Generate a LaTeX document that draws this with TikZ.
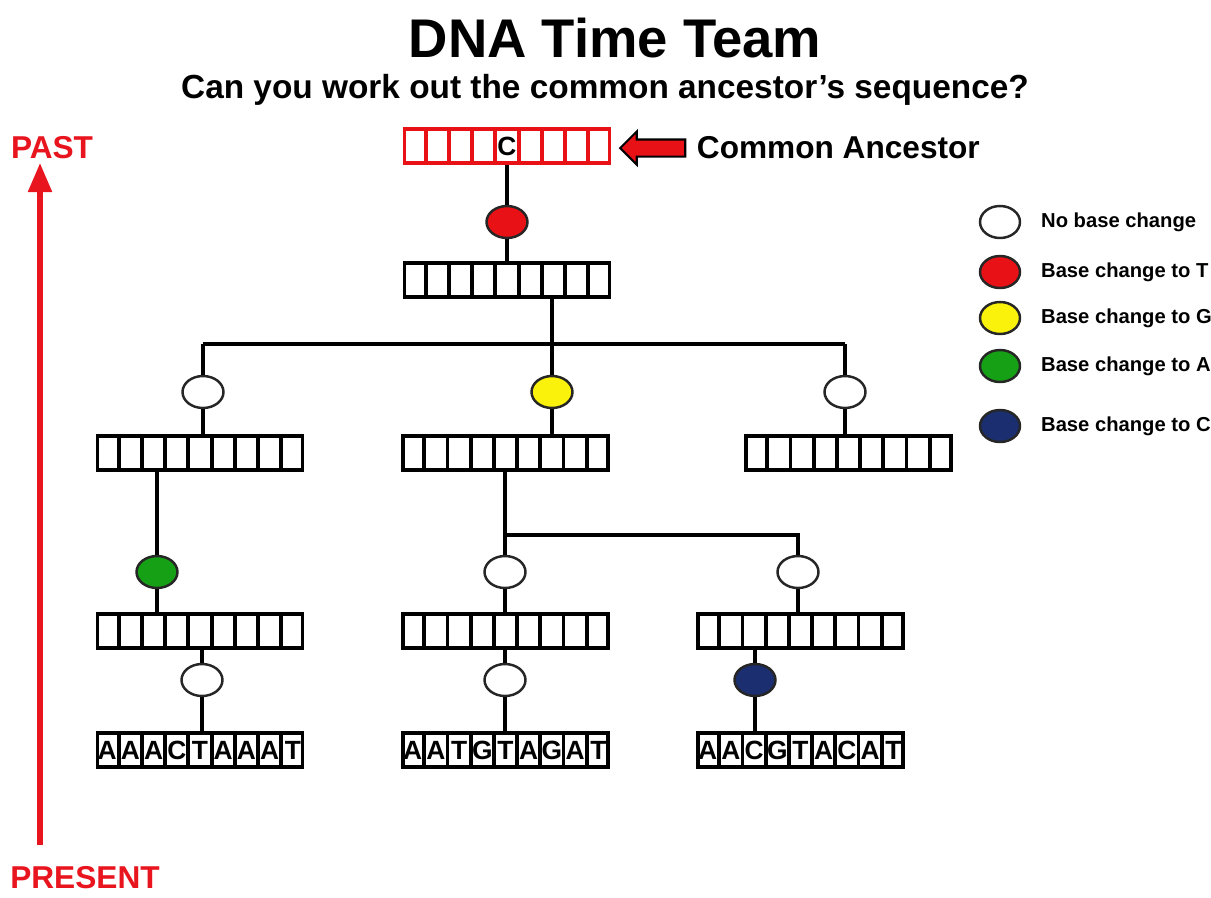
\documentclass[tikz,border=0pt]{standalone}
\usepackage{fontspec}
\setmainfont{Liberation Sans}
\usetikzlibrary{shapes,arrows.meta,positioning,calc}

\definecolor{mutred}{RGB}{232,18,22}
\definecolor{mutyellow}{RGB}{250,242,10}
\definecolor{mutgreen}{RGB}{22,160,22}
\definecolor{mutblue}{RGB}{26,46,112}
\definecolor{timered}{RGB}{232,20,30}

% one sequence = 9 cells
\newcommand{\cells}[2][black]{%
  \foreach \k in {1,...,8}
    \draw[#1] ($(#2.south west)!\k/9!(#2.south east)$) -- ($(#2.north west)!\k/9!(#2.north east)$);}
\newcommand{\bases}[2]{%
  \foreach \b [count=\k, evaluate=\k as \f using (\k-0.5)/9] in {#2}
    \node[base] at ($(#1.west)!\f!(#1.east)$) {\b};}

\tikzset{
  seqbox/.style={draw, rectangle, minimum width=4.1cm, minimum height=0.68cm, inner sep=0},
  base/.style={font=\fontsize{15}{15}\selectfont\bfseries, inner sep=0},
  change/.style={draw=black!85, line width=1.4pt, ellipse, fill=white,
    minimum width=0.82cm, minimum height=0.64cm, inner sep=0},
  keytext/.style={font=\fontsize{11.5}{12}\selectfont\bfseries, inner sep=0},
  bigtext/.style={font=\fontsize{18}{18}\selectfont\bfseries}
}

\begin{document}
\begin{tikzpicture}[x=0.02cm, y=-0.02cm, line width=2.2pt]
\useasboundingbox (0,0) rectangle (1211,897);

% Title
\node[font=\fontsize{31}{31}\selectfont\bfseries] (title) at (615,38) {DNA Time Team};
\node[font=\fontsize{19}{19}\selectfont\bfseries] (question) at (605,90)
  {Can you work out the common ancestor’s sequence?};

% Common ancestor
\node[seqbox, draw=mutred] (anc) at (507,146) {};
\node[single arrow,
    shape border rotate=180,
    fill=mutred,
    draw=black,
    line width=1.2pt,
    minimum height=1.3cm,
    inner sep=0.15cm,
    single arrow head extend=0.16cm
] (ancarrow) at (657,148) {};
\node[bigtext, anchor=west, inner sep=0] (anclabel) at (695,148) {Common Ancestor};

% First change
\node[change, fill=mutred] (mutT) at (507,222) {};
\node[seqbox] (seqB) at (507,280) {};

% Three branches
\coordinate (barL) at (203,344);
\coordinate (barR) at (845,344);
\node[change] (noL) at (203,392) {};
\node[change, fill=mutyellow] (mutG) at (552,392) {};
\node[change] (noR) at (845,392) {};

\node[seqbox] (seqL) at (200,453) {};
\node[seqbox] (seqM) at (505.5,453) {};
\node[seqbox] (seqR) at (848.5,453) {};

% Next level
\node[change, fill=mutgreen] (mutA) at (157,572) {};
\coordinate (barM) at (505,535);
\coordinate (barMR) at (798,535);
\node[change] (noM) at (505,572) {};
\node[change] (noMR) at (798,572) {};

\node[seqbox] (seqLL) at (200,631) {};
\node[seqbox] (seqML) at (505.5,631) {};
\node[seqbox] (seqMR) at (800.5,631) {};

\node[change] (noLL) at (202,680) {};
\node[change] (noML) at (505,680) {};
\node[change, fill=mutblue] (mutC) at (755,680) {};

% Present day sequences
\node[seqbox] (leafA) at (200,750) {};
\node[seqbox] (leafB) at (505.5,750) {};
\node[seqbox] (leafC) at (800.5,750) {};

% Cells and bases
\cells[mutred]{anc}
\node[base] (ancbase) at (anc.center) {C};
\foreach \s in {seqB,seqL,seqM,seqR,seqLL,seqML,seqMR,leafA,leafB,leafC}
  \cells{\s};
\bases{leafA}{A,A,A,C,T,A,A,A,T}
\bases{leafB}{A,A,T,G,T,A,G,A,T}
\bases{leafC}{A,A,C,G,T,A,C,A,T}

% Lines
\draw (anc) -- (mutT) -- (seqB);
\draw (seqB.south -| mutG) -- (mutG) -- (mutG |- seqM.north);
\draw (barL) -- (barR);
\draw (barL) -- (noL) -- (noL |- seqL.north);
\draw (barR) -- (noR) -- (noR |- seqR.north);
\draw (seqL.south -| mutA) -- (mutA) -- (mutA |- seqLL.north);
\draw (seqM.south -| barM) -- (barM) -- (barMR) -- (noMR) -- (noMR |- seqMR.north);
\draw (barM) -- (noM) -- (noM |- seqML.north);
\draw (seqLL.south -| noLL) -- (noLL) -- (noLL |- leafA.north);
\draw (seqML.south -| noML) -- (noML) -- (noML |- leafB.north);
\draw (seqMR.south -| mutC) -- (mutC) -- (mutC |- leafC.north);

% Key
\node[change, minimum width=0.8cm] (keyno) at (1000,222) {};
\node[change, minimum width=0.8cm, fill=mutred] (keyT) at (1000,272) {};
\node[change, minimum width=0.8cm, fill=mutyellow] (keyG) at (1000,318) {};
\node[change, minimum width=0.8cm, fill=mutgreen] (keyA) at (1000,366) {};
\node[change, minimum width=0.8cm, fill=mutblue] (keyC) at (1000,426) {};
\node[keytext, right=0.36cm of keyno] (keynotext) {No base change};
\node[keytext, right=0.36cm of keyT] (keyTtext) {Base change to T};
\node[keytext, right=0.36cm of keyG] (keyGtext) {Base change to G};
\node[keytext, right=0.36cm of keyA] (keyAtext) {Base change to A};
\node[keytext, right=0.36cm of keyC] (keyCtext) {Base change to C};

% Time axis
\node[bigtext, text=timered, inner sep=0] (past) at (52,148) {PAST};
\node[bigtext, text=timered, inner sep=0] (present) at (85,878) {PRESENT};
\coordinate (nowend) at (40,845);
\coordinate (pastend) at (40,163);
\draw[timered, line width=3pt, -{Triangle[length=0.58cm, width=0.46cm]}] (nowend) -- (pastend);

\end{tikzpicture}
\end{document}
